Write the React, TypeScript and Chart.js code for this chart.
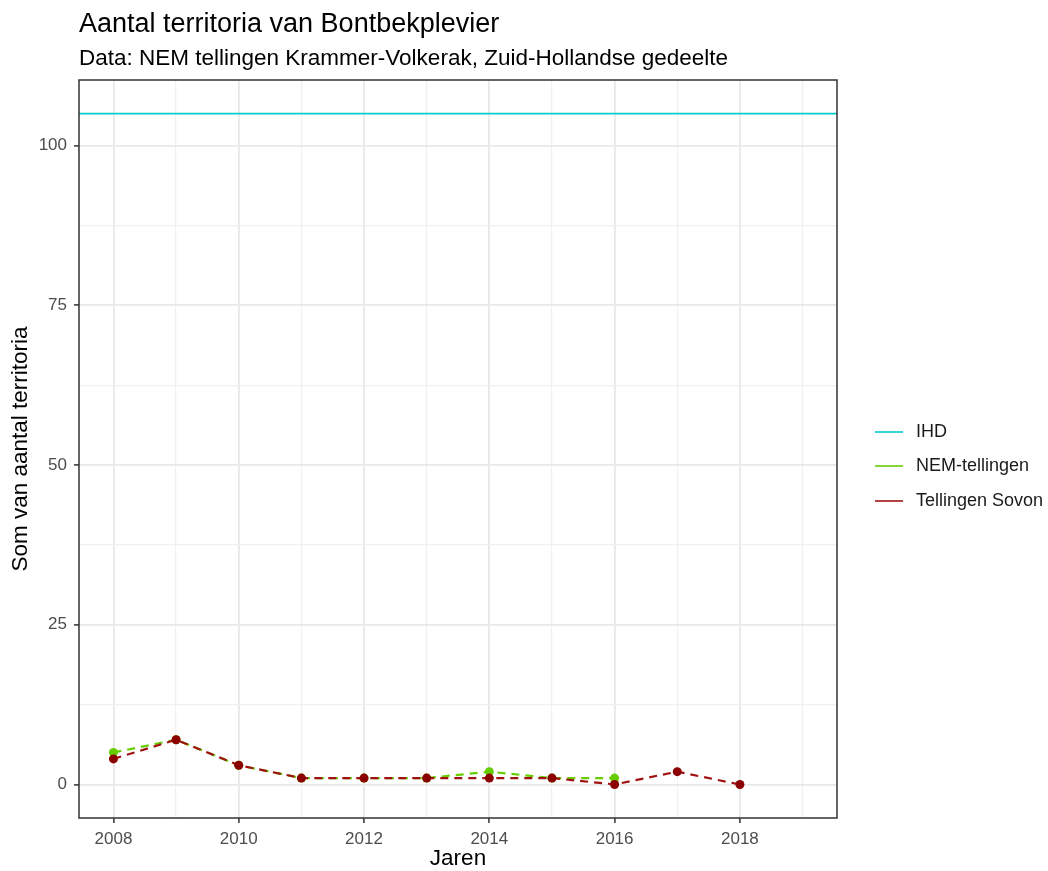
import React, { useEffect, useRef } from "react";
import { Chart, registerables } from "chart.js";

Chart.register(...registerables);

const titleText = "Aantal territoria van Bontbekplevier";
const subtitleText = "Data: NEM tellingen Krammer-Volkerak, Zuid-Hollandse gedeelte";
const xTitle = "Jaren";
const yTitle = "Som van aantal territoria";

const nemYears = [2008, 2009, 2010, 2011, 2012, 2013, 2014, 2015, 2016];
const nemValues = [5, 7, 3, 1, 1, 1, 2, 1, 1];
const sovonYears = [2008, 2009, 2010, 2011, 2012, 2013, 2014, 2015, 2016, 2017, 2018];
const sovonValues = [4, 7, 3, 1, 1, 1, 1, 1, 0, 2, 0];
const ihdValue = 105;

const xRange = [2007.45, 2019.55];
const yRange = [-5.25, 110.25];
const xMajorTicks = [2008, 2010, 2012, 2014, 2016, 2018];
const xMinorTicks = [2009, 2011, 2013, 2015, 2017, 2019];
const yMajorTicks = [0, 25, 50, 75, 100];
const yMinorTicks = [12.5, 37.5, 62.5, 87.5];

const legendLabels = ["IHD", "NEM-tellingen", "Tellingen Sovon"];
const colors = { ihd: "#00CDD0", nem: "#66CD00", sovonLine: "#A01212", sovonPoint: "#8B0000" };

const FONT = "'Liberation Sans', Arial, sans-serif";

export default function App() {
  const ref = useRef<HTMLCanvasElement | null>(null);
  useEffect(() => {
    const canvas = ref.current;
    if (!canvas) return;

    const decor = {
      id: "decor",
      afterDraw(chart: any) {
        const { ctx, chartArea } = chart;
        ctx.save();
        // panel border
        ctx.strokeStyle = "#333333";
        ctx.lineWidth = 1.5;
        ctx.strokeRect(chartArea.left, chartArea.top, chartArea.right - chartArea.left, chartArea.bottom - chartArea.top);
        // titles
        ctx.fillStyle = "#000000";
        ctx.textAlign = "left";
        ctx.textBaseline = "alphabetic";
        ctx.font = `27px ${FONT}`;
        ctx.fillText(titleText, 79, 32);
        ctx.font = `22.5px ${FONT}`;
        ctx.fillText(subtitleText, 79, 65);
        // legend
        const legendColors = [colors.ihd, colors.nem, colors.sovonLine];
        const ys = [432, 466, 501];
        ctx.font = `18px ${FONT}`;
        ctx.textBaseline = "middle";
        legendLabels.forEach((lab, i) => {
          ctx.strokeStyle = legendColors[i];
          ctx.lineWidth = 1.6;
          ctx.beginPath();
          ctx.moveTo(875, ys[i]);
          ctx.lineTo(903, ys[i]);
          ctx.stroke();
          ctx.fillStyle = "#1a1a1a";
          ctx.fillText(lab, 916, ys[i]);
        });
        ctx.restore();
      },
    };

    const isMajorX = (v: number) => xMajorTicks.includes(v);
    const isMajorY = (v: number) => yMajorTicks.includes(v);

    const chart = new Chart(canvas, {
      type: "line",
      data: {
        datasets: [
          {
            label: legendLabels[0],
            data: xRange.map((x) => ({ x, y: ihdValue })),
            borderColor: colors.ihd,
            borderWidth: 1.8,
            pointRadius: 0,
            order: 3,
          },
          {
            label: legendLabels[1],
            data: nemYears.map((x, i) => ({ x, y: nemValues[i] })),
            borderColor: colors.nem,
            backgroundColor: colors.nem,
            borderWidth: 2.2,
            borderDash: [8, 6],
            pointRadius: 4.5,
            pointBorderWidth: 0,
            pointBackgroundColor: colors.nem,
            order: 2,
          },
          {
            label: legendLabels[2],
            data: sovonYears.map((x, i) => ({ x, y: sovonValues[i] })),
            borderColor: colors.sovonLine,
            backgroundColor: colors.sovonPoint,
            borderWidth: 2.2,
            borderDash: [8, 6],
            pointRadius: 4.5,
            pointBorderWidth: 0,
            pointBackgroundColor: colors.sovonPoint,
            order: 1,
          },
        ],
      },
      options: {
        responsive: false,
        animation: false,
        events: [],
        layout: { padding: { left: 0, right: 211, top: 80, bottom: 0 } },
        plugins: { legend: { display: false }, title: { display: false }, tooltip: { enabled: false } },
        scales: {
          x: {
            type: "linear",
            min: xRange[0],
            max: xRange[1],
            afterBuildTicks(scale: any) {
              scale.ticks = [...xMajorTicks, ...xMinorTicks].sort((a, b) => a - b).map((v) => ({ value: v }));
            },
            afterFit(scale: any) {
              scale.height = 53;
            },
            border: { display: false },
            grid: {
              color: (c: any) => (c.tick && isMajorX(c.tick.value) ? "#E8E8E8" : "#F0F0F0"),
              lineWidth: (c: any) => (c.tick && isMajorX(c.tick.value) ? 1.8 : 1.2),
              tickColor: (c: any) => (c.tick && isMajorX(c.tick.value) ? "#333333" : "rgba(0,0,0,0)"),
              tickLength: 5,
              tickWidth: 1.5,
            },
            ticks: {
              autoSkip: false,
              maxRotation: 0,
              padding: 6,
              color: "#4D4D4D",
              font: { family: FONT, size: 17 },
              callback: (v: any) => (isMajorX(Number(v)) ? String(v) : ""),
            },
            title: {
              display: true,
              text: xTitle,
              color: "#000000",
              font: { family: FONT, size: 22.5, lineHeight: 1.05 },
              padding: { top: 0, bottom: 0 },
            },
          },
          y: {
            type: "linear",
            min: yRange[0],
            max: yRange[1],
            afterBuildTicks(scale: any) {
              scale.ticks = [...yMajorTicks, ...yMinorTicks].sort((a, b) => a - b).map((v) => ({ value: v }));
            },
            afterFit(scale: any) {
              scale.width = 79;
            },
            border: { display: false },
            grid: {
              color: (c: any) => (c.tick && isMajorY(c.tick.value) ? "#E8E8E8" : "#F0F0F0"),
              lineWidth: (c: any) => (c.tick && isMajorY(c.tick.value) ? 1.8 : 1.2),
              tickColor: (c: any) => (c.tick && isMajorY(c.tick.value) ? "#333333" : "rgba(0,0,0,0)"),
              tickLength: 5,
              tickWidth: 1.5,
            },
            ticks: {
              autoSkip: false,
              padding: 7,
              color: "#4D4D4D",
              font: { family: FONT, size: 17 },
              callback: (v: any) => (isMajorY(Number(v)) ? String(v) : ""),
            },
            title: {
              display: true,
              text: yTitle,
              color: "#000000",
              font: { family: FONT, size: 22.5, lineHeight: 1.1 },
              padding: { top: 8, bottom: 0 },
            },
          },
        },
      },
      plugins: [decor],
    } as any);
    return () => chart.destroy();
  }, []);

  return (
    <div style={{ position: "absolute", left: 0, top: 0, width: 1048, height: 871, background: "#ffffff" }}>
      <canvas ref={ref} width={1048} height={871} style={{ display: "block" }} />
    </div>
  );
}
